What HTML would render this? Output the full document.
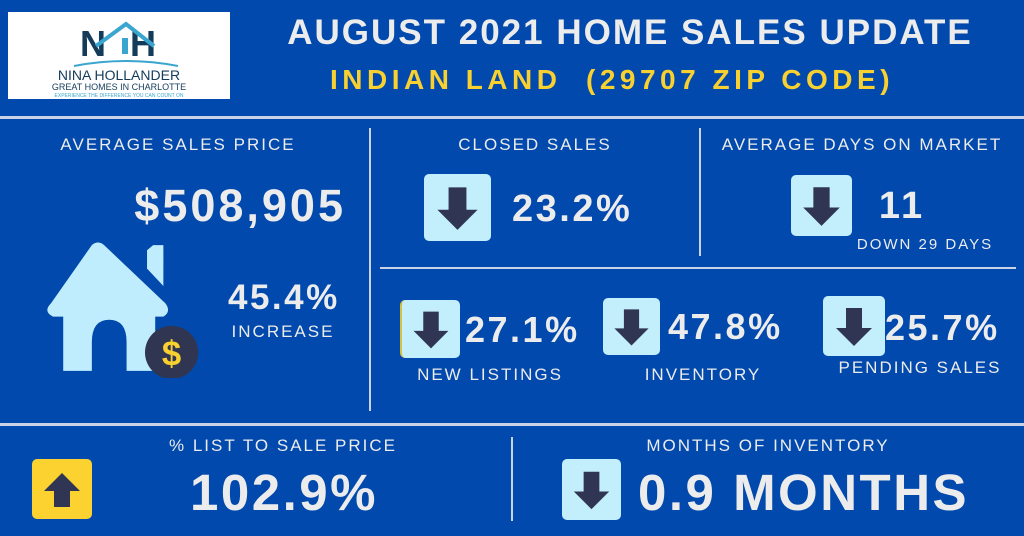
<!DOCTYPE html>
<html><head><meta charset="utf-8"><style>
*{margin:0;padding:0;box-sizing:border-box}
body{width:1024px;height:536px;background:#0149ad;position:relative;overflow:hidden;font-family:"Liberation Sans",sans-serif;color:#ececec}
.a{position:absolute;white-space:nowrap}
.lbl{font-size:17px;letter-spacing:2px;transform:translateX(-50%);line-height:1}
.big{font-weight:bold;line-height:1;letter-spacing:1.5px}
.line{position:absolute;background:#c9d2e6}
.box{position:absolute;background:#c3eefc;border-radius:5px}
.box svg,.ybox svg{position:absolute;left:0;top:0;width:100%;height:100%}
.ybox{position:absolute;background:#fbd22f;border-radius:5px}
</style></head><body>
<div class="a" style="left:8px;top:12px;width:222px;height:87px;background:#fff">
<svg width="222" height="87" viewBox="0 0 222 87">
<text x="72" y="44" font-family="Liberation Sans" font-weight="bold" font-size="36" fill="#143c5a">N</text>
<text x="122" y="44" font-family="Liberation Sans" font-weight="bold" font-size="36" fill="#143c5a">H</text>
<path d="M88 34 L118 12 L146 34" stroke="#3aa6d0" stroke-width="4" fill="none"/>
<rect x="114" y="26" width="6" height="16" fill="#3aa6d0"/>
<path d="M66 54 Q118 44 170 54" stroke="#3aa6d0" stroke-width="2" fill="none"/>
<text x="111" y="68" text-anchor="middle" font-family="Liberation Sans" font-size="14" fill="#143c5a">NINA HOLLANDER</text>
<text x="111" y="78" text-anchor="middle" font-family="Liberation Sans" font-size="9" fill="#143c5a">GREAT HOMES IN CHARLOTTE</text>
<text x="111" y="85" text-anchor="middle" font-family="Liberation Sans" font-size="5" fill="#3aa6d0">EXPERIENCE THE DIFFERENCE YOU CAN COUNT ON</text>
</svg></div>
<div class="a big" style="left:630px;top:15px;font-size:35px;transform:translateX(-50%);letter-spacing:2px">AUGUST 2021 HOME SALES UPDATE</div>
<div class="a big" style="left:612px;top:66px;font-size:28px;transform:translateX(-50%);letter-spacing:4.5px;color:#f8d030">INDIAN LAND&nbsp; (29707 ZIP CODE)</div>
<div class="line" style="left:0;top:116px;width:1024px;height:3px"></div>
<div class="line" style="left:369px;top:128px;width:2px;height:283px"></div>
<div class="line" style="left:699px;top:128px;width:2px;height:128px"></div>
<div class="line" style="left:380px;top:267px;width:636px;height:2px"></div>
<div class="line" style="left:0;top:423px;width:1024px;height:3px"></div>
<div class="line" style="left:511px;top:437px;width:2px;height:84px"></div>

<div class="a lbl" style="left:178px;top:136px">AVERAGE SALES PRICE</div>
<div class="a big" style="right:678px;top:183px;font-size:45px;letter-spacing:3px">$508,905</div>
<svg class="a" style="left:40px;top:240px" width="165" height="138" viewBox="0 0 160 135">
<path d="M50 5 Q56 0 62 5 L122 62 Q128 70 120 75 L112 75 L112 128 L84 128 L84 100 Q84 78 67 78 Q50 78 50 100 L50 128 L22 128 L22 75 L12 75 Q2 70 10 62 Z" fill="#c0edfd"/>
<path d="M110 5 L120 5 L120 45 L104 28 L104 10 Z" fill="#c0edfd"/>
<circle cx="128" cy="110" r="26" fill="#303552"/>
<text x="128" y="123" text-anchor="middle" font-family="Liberation Sans" font-weight="bold" font-size="34" fill="#f8d030">$</text>
</svg>
<div class="a big" style="left:228px;top:280px;font-size:35px;letter-spacing:2.5px">45.4%</div>
<div class="a lbl" style="left:283px;top:323px">INCREASE</div>

<div class="a lbl" style="left:535px;top:136px">CLOSED SALES</div>
<div class="box" style="left:424px;top:174px;width:67px;height:67px"><svg viewBox="0 0 60 60"><path d="M22 12h16v20h10L30 50 12 32h10z" fill="#2f3552"/></svg></div>
<div class="a big" style="left:512px;top:190px;font-size:38px;letter-spacing:2.5px">23.2%</div>

<div class="a lbl" style="left:862px;top:136px">AVERAGE DAYS ON MARKET</div>
<div class="box" style="left:791px;top:175px;width:61px;height:61px"><svg viewBox="0 0 60 60"><path d="M22 12h16v20h10L30 50 12 32h10z" fill="#2f3552"/></svg></div>
<div class="a big" style="left:902px;top:187px;font-size:38px;transform:translateX(-50%);letter-spacing:3px">11</div>
<div class="a lbl" style="left:925px;top:237px;font-size:15px">DOWN 29 DAYS</div>

<div class="box" style="left:400px;top:300px;width:60px;height:58px;border-left:2px solid #d8c040"><svg viewBox="0 0 60 60"><path d="M22 12h16v20h10L30 50 12 32h10z" fill="#2f3552"/></svg></div>
<div class="a big" style="left:465px;top:312px;font-size:36px;letter-spacing:2.5px">27.1%</div>
<div class="a lbl" style="left:490px;top:366px">NEW LISTINGS</div>

<div class="box" style="left:603px;top:298px;width:57px;height:57px"><svg viewBox="0 0 60 60"><path d="M22 12h16v20h10L30 50 12 32h10z" fill="#2f3552"/></svg></div>
<div class="a big" style="left:668px;top:309px;font-size:36px;letter-spacing:2.5px">47.8%</div>
<div class="a lbl" style="left:703px;top:366px">INVENTORY</div>

<div class="box" style="left:823px;top:296px;width:62px;height:60px"><svg viewBox="0 0 60 60"><path d="M22 12h16v20h10L30 50 12 32h10z" fill="#2f3552"/></svg></div>
<div class="a big" style="left:885px;top:310px;font-size:36px;letter-spacing:2.5px">25.7%</div>
<div class="a lbl" style="left:920px;top:359px">PENDING SALES</div>

<div class="a lbl" style="left:283px;top:437px">% LIST TO SALE PRICE</div>
<div class="ybox" style="left:32px;top:459px;width:60px;height:60px"><svg viewBox="0 0 60 60"><path d="M22 48h16V32h10L30 14 12 32h10z" fill="#2f3552"/></svg></div>
<div class="a big" style="left:284px;top:467px;font-size:51px;transform:translateX(-50%);letter-spacing:2.5px">102.9%</div>

<div class="a lbl" style="left:768px;top:437px">MONTHS OF INVENTORY</div>
<div class="box" style="left:562px;top:459px;width:59px;height:61px"><svg viewBox="0 0 60 60"><path d="M22 12h16v20h10L30 50 12 32h10z" fill="#2f3552"/></svg></div>
<div class="a big" style="left:638px;top:467px;font-size:51px;letter-spacing:2.5px">0.9 MONTHS</div>
</body></html>
